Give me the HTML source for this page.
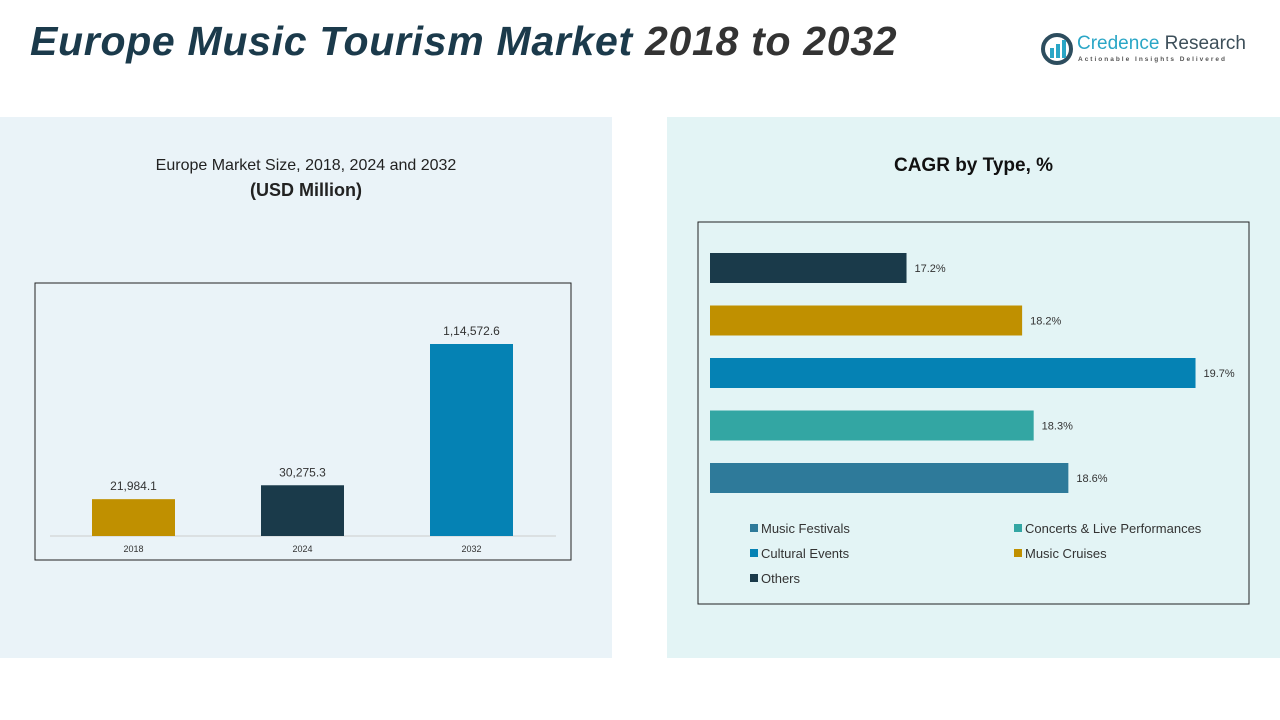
<!DOCTYPE html>
<html><head><meta charset="utf-8"><style>
body{margin:0;width:1280px;height:720px;background:#fff;font-family:"Liberation Sans",sans-serif;position:relative;overflow:hidden}
.abs{position:absolute}
</style></head><body>
<div class="abs" style="left:30px;top:18px;font-size:41px;font-weight:bold;font-style:italic;color:#1b3a4b;letter-spacing:0.7px">Europe Music Tourism Market <span style="color:#333">2018 to 2032</span></div>
<div class="abs" style="left:1040px;top:32px;width:215px;height:36px">
<svg width="34" height="34" class="abs" style="left:0;top:0"><circle cx="17" cy="17" r="14" fill="none" stroke="#2d4d5e" stroke-width="4"/><rect x="10" y="16" width="4" height="10" fill="#2aa6c6"/><rect x="16" y="12" width="4" height="14" fill="#2aa6c6"/><rect x="22" y="8" width="4" height="18" fill="#2aa6c6"/></svg>
<div class="abs" style="left:37px;top:1px;font-size:19px;color:#2aa6c6;white-space:nowrap">Credence <span style="color:#3d4f5a">Research</span></div>
<div class="abs" style="left:38px;top:24px;font-size:6.5px;letter-spacing:2px;color:#555;white-space:nowrap;font-weight:bold">Actionable Insights Delivered</div>
</div>
<div class="abs" style="left:0;top:117px;width:612px;height:541px;background:#eaf3f8"></div>
<div class="abs" style="left:667px;top:117px;width:613px;height:541px;background:#e3f4f5"></div>
<div class="abs" style="left:0;width:612px;top:154px;text-align:center;font-size:16px;color:#222;line-height:24px">Europe Market Size, 2018, 2024 and 2032<br><b style="font-size:18px">(USD Million)</b></div>
<div class="abs" style="left:667px;width:613px;top:155px;text-align:center;font-size:19px;font-weight:bold;color:#111">CAGR by Type, %</div>
<svg class="abs" style="left:0;top:0" width="1280" height="720" id="chart">
<rect x="35" y="283" width="536" height="277" fill="none" stroke="#222" stroke-width="1"/>
<rect x="698" y="222" width="551" height="382" fill="none" stroke="#222" stroke-width="1"/>
<line x1="50" y1="536" x2="556" y2="536" stroke="#ccc"/>
</svg>
<script>
const years=['2018','2024','2032'];
const sizes=[21984.1,30275.3,114572.6];
const sizeLabels=['21,984.1','30,275.3','1,14,572.6'];
const sizeColors=['#c09000','#1a3a4a','#0582b4'];
const types=['Others','Music Cruises','Cultural Events','Concerts & Live Performances','Music Festivals'];
const cagr=[17.2,18.2,19.7,18.3,18.6];
const typeColors=['#1a3a4a','#c09000','#0582b4','#33a6a3','#2e7a9a'];
const NS='http://www.w3.org/2000/svg',svg=document.getElementById('chart');
function mk(t,a,txt){const e=document.createElementNS(NS,t);for(const k in a)e.setAttribute(k,a[k]);if(txt!==undefined)e.textContent=txt;svg.appendChild(e);return e;}
const yH=v=>v/114572.6*192, base=536;
const xC=i=>133.5+i*169;
years.forEach((y,i)=>{
 const h=yH(sizes[i]);
 const r=mk('rect',{x:xC(i)-41.5,y:base-h,width:83,height:h,fill:sizeColors[i]});
 
 
 const t=mk('text',{x:xC(i),y:base-h-9,'text-anchor':'middle','font-size':12,fill:'#333'},sizeLabels[i]);
 
 
 const l=mk('text',{x:xC(i),y:552,'text-anchor':'middle','font-size':9,fill:'#333'},y);
 
 
});
const xW=v=>(v-15.5)*115.6, x0=710;
const yB=i=>253+i*52.5;
types.forEach((t,i)=>{
 const w=xW(cagr[i]);
 const r=mk('rect',{x:x0,y:yB(i),width:w,height:30,fill:typeColors[i]});
 
 
 const l=mk('text',{x:x0+w+8,y:yB(i)+19,'font-size':11,fill:'#333'},cagr[i].toFixed(1)+'%');
 
 
});
const leg=[['Music Festivals',0,0,'#2e7a9a'],['Concerts & Live Performances',1,0,'#33a6a3'],['Cultural Events',0,1,'#0582b4'],['Music Cruises',1,1,'#c09000'],['Others',0,2,'#1a3a4a']];
leg.forEach(([n,c,r,col])=>{
 const x=750+c*264,y=529+r*25;
 const s=mk('rect',{x:x,y:y-5,width:8,height:8,fill:col});
 
 
 const t=mk('text',{x:x+11,y:y+4,'font-size':13,fill:'#333'},n);
 
 
});
</script>
</body></html>
